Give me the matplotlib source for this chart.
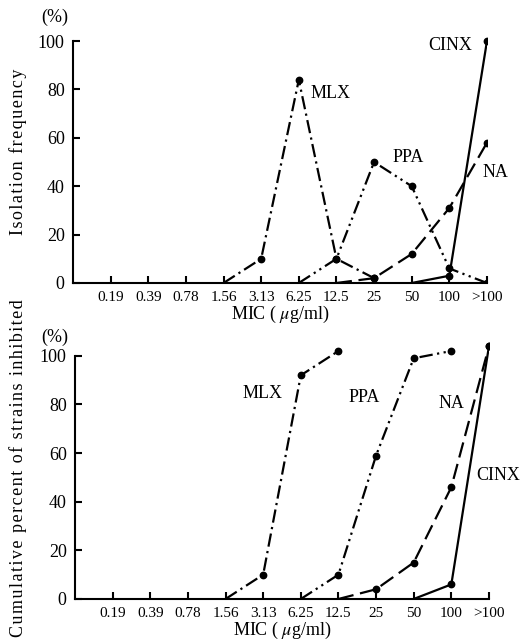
import matplotlib
matplotlib.use("Agg")
import matplotlib.pyplot as plt

plt.rcParams['font.family'] = ['Liberation Serif', 'DejaVu Serif']
plt.rcParams['mathtext.fontset'] = 'stix'

mic_labels = ["0.19", "0.39", "0.78", "1.56", "3.13", "6.25", "12.5", "25", "50", "100", ">100"]

# isolation frequency (%) at each MIC
freq_mlx_mic = ["1.56", "3.13", "6.25", "12.5", "25"]
freq_mlx = [0, 10, 84, 10, 2]
freq_ppa_mic = ["6.25", "12.5", "25", "50", "100", ">100"]
freq_ppa = [0, 10, 50, 40, 6, 0]
freq_na_mic = ["12.5", "25", "50", "100", ">100"]
freq_na = [0, 2, 12, 31, 58]
freq_cinx_mic = ["50", "100", ">100"]
freq_cinx = [0, 3, 100]

# cumulative percent of strains inhibited
cum_mlx_mic = ["1.56", "3.13", "6.25", "12.5"]
cum_mlx = [0, 10, 92, 102]
cum_ppa_mic = ["6.25", "12.5", "25", "50", "100"]
cum_ppa = [0, 10, 59, 99, 102]
cum_na_mic = ["12.5", "25", "50", "100", ">100"]
cum_na = [0, 4, 15, 46, 104]
cum_cinx_mic = ["50", "100", ">100"]
cum_cinx = [0, 6, 104]

styles = {
    "MLX": (0, (6, 2, 1, 2)),
    "PPA": (0, (6, 2, 1, 2, 1, 2)),
    "NA": (0, (7, 3)),
    "CINX": "-",
}

fig = plt.figure(figsize=(5.26, 6.42), dpi=100)
ax1 = fig.add_axes([0.1388, 0.5592, 0.787, 0.407])
ax2 = fig.add_axes([0.1426, 0.067, 0.787, 0.409])


def pos(mics):
    return [mic_labels.index(m) + 1 for m in mics]


def draw(ax, series, labels):
    for name, mics, ys in series:
        xs = pos(mics)
        ax.plot(xs, ys, color="black", lw=1.6, linestyle=styles[name],
                marker="o", markersize=4.6, markevery=list(range(1, len(xs))))
    for name, (tx, ty) in labels.items():
        ax.text(tx, ty, name, fontsize=13, ha="left", va="center")
    ax.set_xlim(0, 11)
    ax.set_ylim(0, 108)
    ax.spines["top"].set_visible(False)
    ax.spines["right"].set_visible(False)
    ax.spines["left"].set_bounds(0, 100)
    ax.spines["left"].set_linewidth(1.5)
    ax.spines["bottom"].set_linewidth(1.5)
    ax.set_xticks(range(1, 12))
    ax.set_xticklabels(mic_labels, fontsize=11)
    ax.set_yticks([0, 20, 40, 60, 80, 100])
    ax.set_yticklabels(["0", "20", "40", "60", "80", "100"], fontsize=13)
    ax.tick_params(axis="both", direction="in", length=5, width=1.5)
    ax.tick_params(axis="x", pad=6)
    ax.tick_params(axis="y", pad=6)
    ax.set_xlabel("MIC ( $\\mu$g/ml)", fontsize=13, labelpad=0)


draw(ax1,
     [("MLX", freq_mlx_mic, freq_mlx), ("PPA", freq_ppa_mic, freq_ppa),
      ("NA", freq_na_mic, freq_na), ("CINX", freq_cinx_mic, freq_cinx)],
     {"CINX": (9.43, 98.3), "MLX": (6.3, 78.5), "PPA": (8.5, 52), "NA": (10.89, 45.5)})
draw(ax2,
     [("MLX", cum_mlx_mic, cum_mlx), ("PPA", cum_ppa_mic, cum_ppa),
      ("NA", cum_na_mic, cum_na), ("CINX", cum_cinx_mic, cum_cinx)],
     {"MLX": (4.44, 84.7), "PPA": (7.28, 83), "NA": (9.67, 80.6), "CINX": (10.65, 50.6)})

fig.text(55 / 526, 1 - 17 / 642, "(%)", fontsize=13, ha="center", va="center")
fig.text(55 / 526, 1 - 337 / 642, "(%)", fontsize=13, ha="center", va="center")

sp = "\u200a"
fig.text(0.034, 1 - 152 / 642, sp.join("Isolation frequency"), rotation=90,
         fontsize=13, ha="center", va="center")
fig.text(0.034, 1 - 468 / 642, sp.join("Cumulative percent of strains inhibited"),
         rotation=90, fontsize=13, ha="center", va="center")

fig.savefig("out.png", dpi=100)
